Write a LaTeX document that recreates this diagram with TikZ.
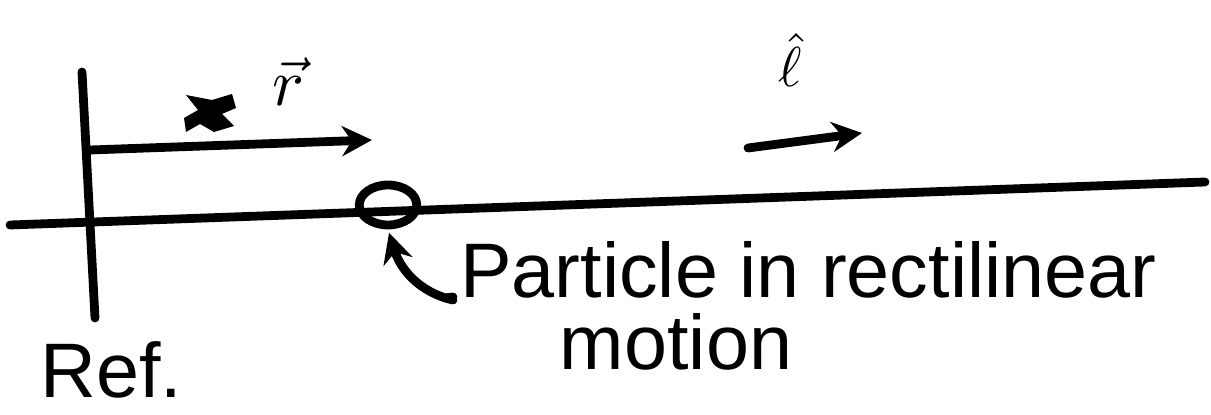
\documentclass[tikz,border=0pt]{standalone}
\usepackage{amsmath,amssymb}
\usepackage{fontspec}
\setmainfont{Liberation Sans}
\usepackage{tikz}
\usetikzlibrary{shapes.geometric, arrows.meta, positioning, calc}
\tikzstyle{pen} = [line width=5pt, line cap=round, line join=round]
\tikzstyle{arrow} = [pen, -{Stealth[length=6mm, width=6mm]}]
\tikzstyle{hand} = [inner sep=0pt, font=\fontsize{44}{50}\selectfont]
\tikzstyle{sym} = [inner sep=0pt]
\tikzstyle{blob} = [ellipse, draw, line width=5pt, minimum width=1.15cm, minimum height=0.8cm]

\begin{document}
\begin{tikzpicture}[x=0.02cm, y=-0.02cm]
        \useasboundingbox (0,0) rectangle (1211,415);
        \coordinate (axisL) at (10,225);
        \coordinate (axisR) at (1205,182);
        \coordinate (refT) at (82,72);
        \coordinate (refB) at (95,318);
        \coordinate (rstart) at (90,150);
        \coordinate (rend) at (372,140);
        \coordinate (lstart) at (748,148);
        \coordinate (lend) at (862,133);
        \coordinate (ptail) at (453,300);

        \node (particle) [blob] at (388,205) {};
        \node (rvec) [sym] at (288,82) {\scalebox{3.8}{$\vec{r}$}};
        \node (lhat) [sym] at (790,60) {\scalebox{3.2}{$\hat{\ell}$}};
        \node (desc) [hand, anchor=base west] at (460,298) {Particle in rectilinear};
        \node (desc2) [hand, anchor=base] at (676,370) {motion};
        \node (ref) [hand, anchor=base west] at (40,398) {Ref.};

        % axis and reference line
        \draw [pen] (axisL) -- (axisR);
        \draw [pen] (refT) -- (refB);

        % crossed out mark
        \fill (186,95) -- (212,100) -- (232,94) -- (236,108) -- (222,114) -- (234,126) -- (214,132) -- (200,124) -- (186,132) -- (184,118) -- (198,110) -- cycle;

        \draw [arrow] (rstart) -- (rend);
        \draw [arrow] (lstart) -- (lend);
        \draw [arrow, shorten >=2pt] (ptail) .. controls (418,292) and (400,268) .. (particle.south);
        \draw [pen] (445,298) -- (453,297);
    \end{tikzpicture}
\end{document}
